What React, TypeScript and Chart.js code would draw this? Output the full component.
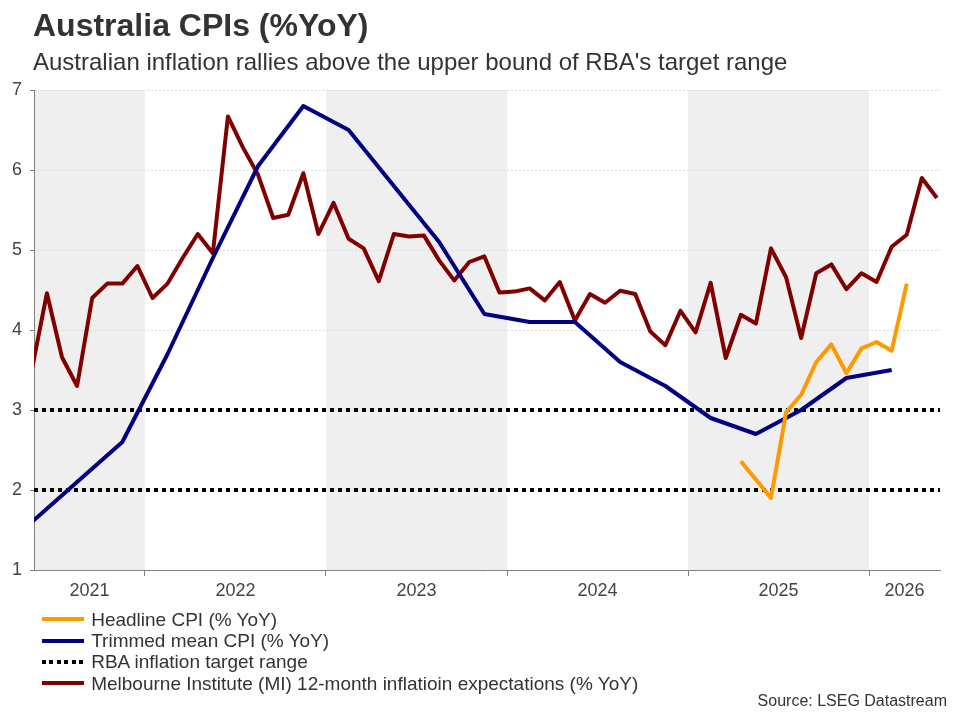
import React, { useEffect, useRef } from 'react';
import { Chart, registerables } from 'chart.js';

Chart.register(...registerables);

const FONT = '"Liberation Sans", Arial, Helvetica, sans-serif';

// ---------- data ----------
const miMonths = [
  '2021-05', '2021-06', '2021-07', '2021-08', '2021-09', '2021-10', '2021-11', '2021-12',
  '2022-01', '2022-02', '2022-03', '2022-04', '2022-05', '2022-06', '2022-07', '2022-08', '2022-09', '2022-10', '2022-11', '2022-12',
  '2023-01', '2023-02', '2023-03', '2023-04', '2023-05', '2023-06', '2023-07', '2023-08', '2023-09', '2023-10', '2023-11', '2023-12',
  '2024-01', '2024-02', '2024-03', '2024-04', '2024-05', '2024-06', '2024-07', '2024-08', '2024-09', '2024-10', '2024-11', '2024-12',
  '2025-01', '2025-02', '2025-03', '2025-04', '2025-05', '2025-06', '2025-07', '2025-08', '2025-09', '2025-10', '2025-11', '2025-12',
  '2026-01', '2026-02', '2026-03', '2026-04', '2026-05',
];
const miValues = [
  3.5, 4.46, 3.66, 3.3, 4.4, 4.58, 4.58, 4.8,
  4.4, 4.58, 4.9, 5.2, 4.96, 6.67, 6.28, 5.94, 5.4, 5.44, 5.96, 5.2,
  5.59, 5.14, 5.02, 4.61, 5.2, 5.17, 5.18, 4.87, 4.62, 4.85, 4.92, 4.47,
  4.48, 4.52, 4.37, 4.6, 4.12, 4.45, 4.34, 4.49, 4.45, 3.98, 3.81, 4.24,
  3.97, 4.59, 3.65, 4.19, 4.08, 5.02, 4.66, 3.9, 4.71, 4.82, 4.51, 4.71,
  4.6, 5.04, 5.19, 5.9, 5.65,
];

const trimmedQuarters = [
  'Q2 2021', 'Q3 2021', 'Q4 2021',
  'Q1 2022', 'Q2 2022', 'Q3 2022', 'Q4 2022',
  'Q1 2023', 'Q2 2023', 'Q3 2023', 'Q4 2023',
  'Q1 2024', 'Q2 2024', 'Q3 2024', 'Q4 2024',
  'Q1 2025', 'Q2 2025', 'Q3 2025', 'Q4 2025',
  'Q1 2026',
];
const trimmedValues = [
  1.6, 2.1, 2.6,
  3.7, 4.9, 6.05, 6.8,
  6.5, 5.8, 5.1, 4.2,
  4.1, 4.1, 3.6, 3.3,
  2.9, 2.7, 3.0, 3.4,
  3.5,
];

const headlineMonths = [
  '2025-04', '2025-05', '2025-06', '2025-07', '2025-08', '2025-09',
  '2025-10', '2025-11', '2025-12', '2026-01', '2026-02', '2026-03',
];
const headlineValues = [2.36, 2.13, 1.9, 2.97, 3.19, 3.6, 3.82, 3.46, 3.77, 3.85, 3.74, 4.58];

const rbaTargetBounds = [3, 2];
const shadedYears = [2021, 2023, 2025];
const yearLabels = ['2021', '2022', '2023', '2024', '2025', '2026'];
const yTicks = [1, 2, 3, 4, 5, 6, 7];

const X_MIN = 2021.387;
const X_MAX = 2026.392;

const LABELS = {
  headline: 'Headline CPI (% YoY)',
  trimmed: 'Trimmed mean CPI (% YoY)',
  rba: 'RBA inflation target range',
  mi: 'Melbourne Institute (MI) 12-month inflatioin expectations (% YoY)',
};
const COLORS = {
  headline: '#ff9900',
  trimmed: '#000080',
  rba: '#000000',
  mi: '#800000',
};

// ---------- helpers ----------
const monthToX = (m: string) => {
  const [y, mo] = m.split('-').map(Number);
  return y + (mo - 0.5) / 12;
};
const quarterToX = (q: string) => {
  const [qq, y] = q.split(' ');
  const n = Number(qq.slice(1));
  return Number(y) + (3 * n - 1.5) / 12;
};
const yearCenter = (yr: number) => (Math.max(yr, X_MIN) + Math.min(yr + 1, X_MAX)) / 2;
const isBoundary = (v: number) => Math.abs(v - Math.round(v)) < 1e-6;
const yearBoundaries = yearLabels.slice(1).map(Number);
const xTickValues = [...yearLabels.map((l) => yearCenter(Number(l))), ...yearBoundaries].sort((a, b) => a - b);

const shadePlugin = {
  id: 'yearShade',
  beforeDraw(chart: any) {
    const { ctx, chartArea: a, scales } = chart;
    const x = scales.x;
    ctx.save();
    ctx.fillStyle = '#efefef';
    shadedYears.forEach((yr) => {
      const x1 = Math.max(x.getPixelForValue(yr), a.left);
      const x2 = Math.min(x.getPixelForValue(yr + 1), a.right);
      if (x2 > x1) ctx.fillRect(x1, a.top, x2 - x1, a.bottom - a.top);
    });
    ctx.restore();
  },
};

const lineBase = {
  pointRadius: 0,
  pointHoverRadius: 0,
  borderWidth: 4,
  tension: 0,
  clip: 0,
  borderJoinStyle: 'round' as const,
  fill: false,
};

const legendItems = [
  { label: LABELS.headline, color: COLORS.headline, dotted: false },
  { label: LABELS.trimmed, color: COLORS.trimmed, dotted: false },
  { label: LABELS.rba, color: COLORS.rba, dotted: true },
  { label: LABELS.mi, color: COLORS.mi, dotted: false },
];

export default function App() {
  const ref = useRef<HTMLCanvasElement | null>(null);

  useEffect(() => {
    if (!ref.current) return;
    const chart = new Chart(ref.current, {
      type: 'line',
      data: {
        datasets: [
          {
            ...lineBase,
            label: LABELS.headline,
            data: headlineMonths.map((m, i) => ({ x: monthToX(m), y: headlineValues[i] })),
            borderColor: COLORS.headline,
            backgroundColor: COLORS.headline,
          },
          {
            ...lineBase,
            label: LABELS.trimmed,
            data: trimmedQuarters.map((q, i) => ({ x: quarterToX(q), y: trimmedValues[i] })),
            borderColor: COLORS.trimmed,
            backgroundColor: COLORS.trimmed,
          },
          ...rbaTargetBounds.map((b) => ({
            ...lineBase,
            label: LABELS.rba,
            data: [
              { x: X_MIN, y: b },
              { x: X_MAX, y: b },
            ],
            borderColor: COLORS.rba,
            backgroundColor: COLORS.rba,
            borderDash: [4, 4],
            borderCapStyle: 'butt' as const,
          })),
          {
            ...lineBase,
            label: LABELS.mi,
            data: miMonths.map((m, i) => ({ x: monthToX(m), y: miValues[i] })),
            borderColor: COLORS.mi,
            backgroundColor: COLORS.mi,
          },
        ],
      },
      options: {
        responsive: false,
        animation: false,
        maintainAspectRatio: false,
        events: [],
        layout: { padding: { left: 0, right: 12, top: 82, bottom: 102 } },
        plugins: {
          legend: { display: false },
          tooltip: { enabled: false },
          title: { display: false },
        },
        scales: {
          x: {
            type: 'linear',
            min: X_MIN,
            max: X_MAX,
            afterBuildTicks: (s: any) => {
              s.ticks = xTickValues.map((v) => ({ value: v }));
            },
            afterFit: (s: any) => {
              s.height = 40;
            },
            ticks: {
              autoSkip: false,
              maxRotation: 0,
              minRotation: 0,
              padding: 4,
              color: '#444',
              font: { family: FONT, size: 18 },
              callback: (v: any) => (isBoundary(Number(v)) ? '' : String(Math.floor(Number(v)))),
            },
            grid: {
              display: true,
              drawOnChartArea: false,
              drawTicks: true,
              tickLength: 6,
              tickWidth: 1,
              tickColor: (c: any) => (c.tick && isBoundary(c.tick.value) ? '#808080' : 'rgba(0,0,0,0)'),
            },
            border: { display: true, color: '#808080', width: 1 },
          },
          y: {
            type: 'linear',
            min: 1,
            max: 7,
            afterBuildTicks: (s: any) => {
              s.ticks = yTicks.map((v) => ({ value: v }));
            },
            afterFit: (s: any) => {
              s.width = 26;
            },
            ticks: {
              padding: 8,
              color: '#444',
              font: { family: FONT, size: 18 },
              callback: (v: any) => String(v),
            },
            grid: {
              display: true,
              drawOnChartArea: true,
              drawTicks: true,
              tickLength: 4,
              tickWidth: 1,
              tickColor: '#808080',
              lineWidth: 1,
              color: (c: any) => (c.tick && c.tick.value === 1 ? 'rgba(0,0,0,0)' : '#dcdcdc'),
            },
            border: { display: true, color: '#808080', width: 1, dash: [2, 2] },
          },
        },
      },
      plugins: [shadePlugin],
    } as any);
    return () => chart.destroy();
  }, []);

  const rowTop = 600.8;
  const rowH = 21.3;

  return (
    <div style={{ position: 'relative', width: 944, height: 704, fontFamily: FONT, color: '#333' }}>
      <canvas
        ref={ref}
        width={944}
        height={704}
        style={{ display: 'block', position: 'absolute', left: 0, top: 0, width: 944, height: 704 }}
      />
      <div
        style={{
          position: 'absolute', left: 25, top: 0.9, fontSize: 32, fontWeight: 700,
          lineHeight: '32px', whiteSpace: 'nowrap', color: '#333',
        }}
      >
        Australia CPIs (%YoY)
      </div>
      <div
        style={{
          position: 'absolute', left: 25, top: 42.2, fontSize: 24, lineHeight: '24px',
          whiteSpace: 'nowrap', color: '#333',
        }}
      >
        Australian inflation rallies above the upper bound of RBA's target range
      </div>
      {legendItems.map((it, i) => (
        <div
          key={it.label}
          style={{
            position: 'absolute', left: 33.7, top: rowTop + i * rowH, height: rowH,
            display: 'flex', alignItems: 'center', whiteSpace: 'nowrap',
          }}
        >
          <span
            style={{
              display: 'inline-block', width: 42, height: 4, marginRight: 7.5,
              background: it.dotted
                ? `repeating-linear-gradient(to right, ${it.color} 0px, ${it.color} 4px, transparent 4px, transparent 7.5px)`
                : it.color,
            }}
          />
          <span style={{ fontSize: 19, lineHeight: `${rowH}px`, color: '#333' }}>{it.label}</span>
        </div>
      ))}
      <div
        style={{
          position: 'absolute', right: 5, top: 685, fontSize: 16, lineHeight: '16px',
          whiteSpace: 'nowrap', color: '#333',
        }}
      >
        Source: LSEG Datastream
      </div>
    </div>
  );
}
